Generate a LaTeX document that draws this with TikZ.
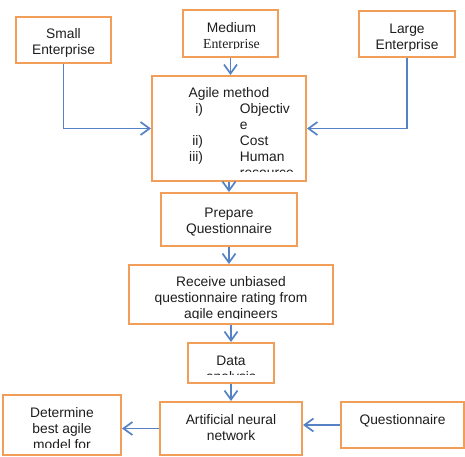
\documentclass[tikz,border=0pt]{standalone}
\usepackage{fontspec}
\setmainfont{Liberation Sans}
\newfontfamily\serifword{Liberation Serif}
\usetikzlibrary{arrows.meta}
\definecolor{boxorange}{RGB}{240,158,88}
\definecolor{arrowblue}{RGB}{84,130,196}
\definecolor{txtcol}{RGB}{30,30,30}
\newcommand\lns[1]{\begin{tabular}[t]{@{}c@{}}#1\end{tabular}}
\newcommand\cliptext[3]{\begin{scope}\clip ([shift={(2pt,#2)}]#1.south west) rectangle ([shift={(-2pt,-2pt)}]#1.north east); #3 \end{scope}}
\begin{document}
\begin{tikzpicture}[x=1pt,y=-1pt,
  box/.style={draw=boxorange,line width=2pt,fill=white,inner sep=0pt},
  conn/.style={draw=arrowblue,line width=1.7pt,-{Straight Barb[length=9pt,width=13pt]}},
  lbl/.style={inner sep=0pt,anchor=base,text=txtcol,font=\fontsize{13.8}{16}\selectfont}]
\useasboundingbox (0,0) rectangle (465,456);

% boxes
\node[box,minimum width=95pt,minimum height=46pt] (small) at (63.5,40) {};
\node[box,minimum width=95pt,minimum height=47pt] (medium) at (230.5,33.5) {};
\node[box,minimum width=96pt,minimum height=46pt] (large) at (407,34) {};
\node[box,minimum width=154pt,minimum height=105pt] (agile) at (229,128.5) {};
\node[box,minimum width=136pt,minimum height=53pt] (prepare) at (229,219.5) {};
\node[box,minimum width=204pt,minimum height=59pt] (receive) at (231,294.5) {};
\node[box,minimum width=86pt,minimum height=40pt] (data) at (231,363) {};
\node[box,minimum width=142pt,minimum height=53pt] (ann) at (231,428.5) {};
\node[box,minimum width=118pt,minimum height=60pt] (determine) at (62,425) {};
\node[box,minimum width=123pt,minimum height=46pt] (quest) at (402.5,425) {};

% texts (clipped inside boxes)
\cliptext{small}{8pt}{\node[lbl] (tsmall) at (63.5,38) {\lns{Small\\Enterprise}};}
\cliptext{medium}{10pt}{\node[lbl] (tmedium) at (231.5,32) {\lns{Medium\\{\serifword Enterprise}}};}
\cliptext{large}{8pt}{\node[lbl] (tlarge) at (407,33) {\lns{Large\\Enterprise}};}
\cliptext{agile}{11pt}{
  \node[lbl] (tagile) at (229,97) {Agile method};
  \node[lbl,anchor=base west] (tlist) at (189,113) {\begin{tabular}[t]{@{}r@{\hspace{37pt}}l@{}}i) & Objectiv\\ & e\\ ii) & Cost\\ iii) & Human\\ & resource\end{tabular}};}
\cliptext{prepare}{8pt}{\node[lbl] (tprepare) at (229,217) {\lns{Prepare\\Questionnaire}};}
\cliptext{receive}{7pt}{\node[lbl] (treceive) at (231,286) {\lns{Receive unbiased\\questionnaire rating from\\agile engineers}};}
\cliptext{data}{10pt}{\node[lbl] (tdata) at (231,365) {\lns{Data\\analysis}};}
\cliptext{ann}{8pt}{\node[lbl] (tann) at (231,424) {\lns{Artificial neural\\network}};}
\cliptext{determine}{9pt}{\node[lbl] (tdetermine) at (62,417) {\lns{Determine\\best agile\\model for}};}
\cliptext{quest}{8pt}{\node[lbl] (tquest) at (402.5,424) {Questionnaire};}

% connectors
\draw[conn] (small.south) |- (agile.west);
\draw[conn] (large.south) |- (agile.east);
\draw[conn] (medium.south) -- (medium.south |- agile.north);
\draw[conn] (agile.south) -- (prepare.north);
\draw[conn] (prepare.south) -- (prepare.south |- receive.north);
\draw[conn] (receive.south) -- (receive.south |- data.north);
\draw[conn] (data.south) -- (ann.north);
\draw[conn] (ann.west) -- (ann.west -| determine.east);
\draw[conn] (quest.west) -- (quest.west -| ann.east);
\end{tikzpicture}
\end{document}
